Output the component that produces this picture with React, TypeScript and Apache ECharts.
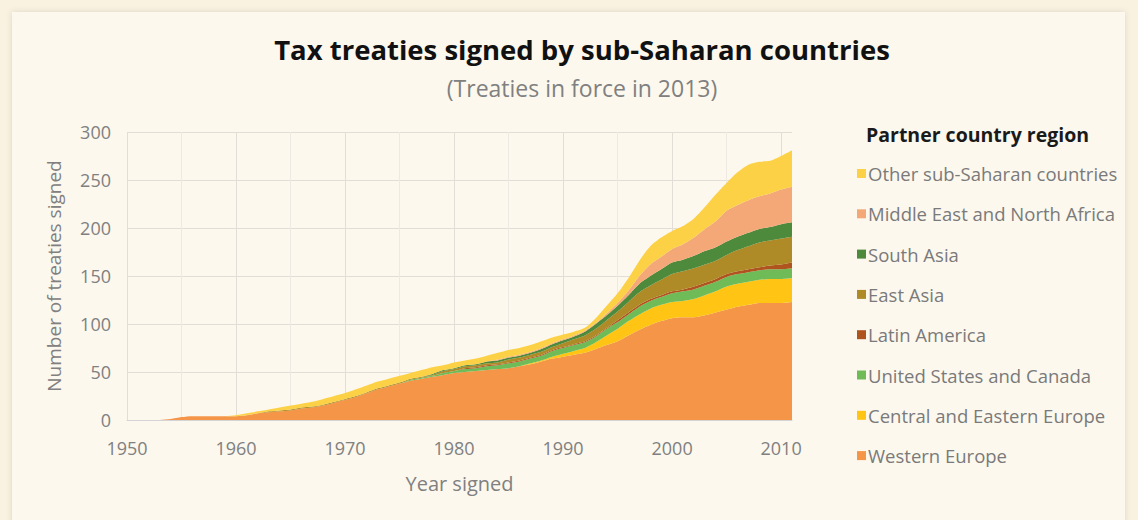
import React, { useEffect, useRef } from "react";
import * as echarts from "echarts";

const years: string[] = [];
for (let y = 1950; y <= 2011; y++) years.push(String(y));

// Values per year 1950..2011
const westernEurope = [
  0, 0, 0, 0, 1, 3, 4, 4, 4, 4,
  4, 5, 7, 8, 9, 10, 12, 13, 15, 18,
  21, 24, 28, 32, 35, 38, 41, 43, 45, 47,
  49, 50, 51, 52, 53, 54, 56, 58, 61, 64,
  66, 68, 70, 74, 78, 82, 88, 94, 99, 103,
  106, 107, 107, 109, 112, 115, 118, 120, 122, 122,
  122, 123,
];
const centralEasternEurope = [
  0, 0, 0, 0, 0, 0, 0, 0, 0, 0,
  0, 0, 0, 0, 0, 0, 0, 0, 0, 0,
  0, 0, 0, 0, 0, 0, 0, 0, 0, 0,
  0, 0, 0, 0, 0, 0, 0, 1, 1, 2,
  3, 4, 5, 7, 10, 13, 15, 16, 17, 17,
  17, 17, 19, 21, 22, 24, 24, 24, 24, 25,
  25, 25,
];
const usCanada = [
  0, 0, 0, 0, 0, 0, 0, 0, 0, 0,
  0, 0, 0, 0, 0, 0, 0, 0, 0, 0,
  0, 0, 0, 0, 0, 0, 1, 1, 1, 2,
  2, 3, 3, 4, 4, 5, 5, 5, 5, 6,
  6, 6, 6, 6, 7, 7, 7, 8, 8, 8,
  9, 10, 10, 10, 10, 10, 10, 10, 10, 10,
  10, 10,
];
const latinAmerica = [
  0, 0, 0, 0, 0, 0, 0, 0, 0, 0,
  0, 0, 0, 0, 0, 0, 0, 0, 0, 0,
  0, 0, 0, 0, 0, 0, 0, 0, 0, 0,
  0, 1, 1, 1, 1, 1, 1, 1, 1, 1,
  1, 1, 1, 1, 1, 2, 2, 2, 2, 2,
  2, 2, 3, 3, 3, 3, 3, 3, 3, 4,
  5, 6,
];
const eastAsia = [
  0, 0, 0, 0, 0, 0, 0, 0, 0, 0,
  0, 0, 0, 1, 1, 1, 1, 1, 1, 1,
  1, 1, 1, 1, 1, 1, 1, 1, 1, 2,
  2, 2, 2, 2, 2, 3, 3, 3, 3, 3,
  4, 5, 6, 7, 8, 9, 11, 13, 14, 16,
  18, 19, 19, 19, 19, 20, 22, 24, 26, 26,
  27, 27,
];
const southAsia = [
  0, 0, 0, 0, 0, 0, 0, 0, 0, 0,
  0, 0, 0, 0, 0, 0, 0, 0, 0, 0,
  0, 0, 0, 0, 0, 0, 0, 0, 1, 1,
  1, 1, 1, 2, 2, 2, 2, 2, 3, 3,
  3, 3, 4, 5, 5, 6, 7, 9, 10, 11,
  12, 12, 13, 14, 14, 14, 14, 14, 14, 14,
  15, 15,
];
const middleEastNorthAfrica = [
  0, 0, 0, 0, 0, 0, 0, 0, 0, 0,
  0, 0, 0, 0, 0, 0, 0, 0, 0, 0,
  0, 0, 0, 0, 0, 0, 0, 0, 0, 0,
  0, 0, 0, 0, 1, 1, 1, 1, 1, 1,
  1, 1, 1, 1, 2, 3, 5, 8, 12, 13,
  14, 16, 19, 23, 27, 32, 33, 34, 34, 35,
  36, 37,
];
const otherSubSaharan = [
  0, 0, 0, 0, 0, 0, 0, 0, 0, 0,
  1, 2, 2, 2, 3, 4, 4, 5, 6, 6,
  6, 7, 7, 7, 7, 7, 6, 7, 7, 5,
  6, 5, 6, 6, 7, 7, 7, 7, 7, 6,
  5, 4, 3, 5, 8, 10, 13, 16, 19, 20,
  19, 19, 20, 23, 28, 29, 34, 37, 36, 34,
  35, 38,
];

const seriesNames = [
  "Western Europe",
  "Central and Eastern Europe",
  "United States and Canada",
  "Latin America",
  "East Asia",
  "South Asia",
  "Middle East and North Africa",
  "Other sub-Saharan countries",
];
const seriesValues = [
  westernEurope,
  centralEasternEurope,
  usCanada,
  latinAmerica,
  eastAsia,
  southAsia,
  middleEastNorthAfrica,
  otherSubSaharan,
];
const seriesColors = [
  "#F59548",
  "#FFC414",
  "#6EBB58",
  "#B0541F",
  "#AE8B26",
  "#4D8A3B",
  "#F4A878",
  "#FCD146",
];

const yTicks = [0, 50, 100, 150, 200, 250, 300];

const FONT = "'Open Sans', 'Noto Sans', sans-serif";

export default function App() {
  const ref = useRef<HTMLDivElement>(null);
  useEffect(() => {
    document.body.style.margin = "0";
    if (!ref.current) return;
    const chart = echarts.init(ref.current, null, { renderer: "svg" });
    const series = seriesNames.map((name, i) => ({
      name,
      type: "line",
      stack: "total",
      symbol: "none",
      smooth: 0.25,
      xAxisIndex: 0,
      lineStyle: { width: 0 },
      areaStyle: { color: seriesColors[i], opacity: 1 },
      itemStyle: { color: seriesColors[i] },
      data: seriesValues[i],
      z: 3,
    }));
    chart.setOption({
      animation: false,
      backgroundColor: "#FAF2E1",
      graphic: [
        {
          type: "rect",
          shape: { x: 12, y: 12, width: 1113, height: 520 },
          style: {
            fill: "#FCF8EE",
            shadowBlur: 6,
            shadowColor: "rgba(0,0,0,0.12)",
          },
          z: -10,
          silent: true,
        },
        {
          type: "text",
          left: 866,
          top: 124,
          style: {
            text: "Partner country region",
            font: `bold 19.5px ${FONT}`,
            fill: "#1a1a1a",
          },
        },
      ],
      title: {
        text: "Tax treaties signed by sub-Saharan countries",
        subtext: "(Treaties in force in 2013)",
        left: 577,
        textAlign: "center",
        top: 30,
        itemGap: 13,
        textStyle: {
          fontFamily: FONT,
          fontWeight: "bold",
          fontSize: 27.5,
          color: "#111111",
        },
        subtextStyle: {
          fontFamily: FONT,
          fontSize: 23,
          color: "#808080",
        },
      },
      legend: {
        orient: "vertical",
        left: 852,
        top: 159,
        itemWidth: 9,
        itemHeight: 9,
        itemGap: 21.3,
        icon: "rect",
        data: seriesNames.slice().reverse(),
        textStyle: {
          fontFamily: FONT,
          fontSize: 18.5,
          color: "#7a7a7a",
          padding: [0, 0, 0, -3],
        },
      },
      grid: { left: 127, right: 346, top: 132, bottom: 100 },
      xAxis: [
        {
          type: "category",
          data: years,
          boundaryGap: false,
          name: "Year signed",
          nameLocation: "middle",
          nameGap: 53,
          nameTextStyle: { fontFamily: FONT, fontSize: 20, color: "#808080" },
          axisLine: { show: true, lineStyle: { color: "#d4d4d4", width: 1 } },
          axisTick: { show: false },
          axisLabel: {
            fontFamily: FONT,
            fontSize: 18,
            color: "#808080",
            margin: 19,
            interval: (idx: number, val: string) => Number(val) % 10 === 0,
          },
          splitLine: {
            show: true,
            interval: (idx: number, val: string) => Number(val) % 10 === 0,
            lineStyle: { color: "#e2ddd6", width: 1 },
          },
          z: 2,
        },
        {
          type: "category",
          data: years,
          boundaryGap: false,
          position: "bottom",
          axisLine: { show: false },
          axisTick: { show: false },
          axisLabel: { show: false },
          splitLine: {
            show: true,
            interval: (idx: number, val: string) => Number(val) % 5 === 0 && Number(val) % 10 !== 0,
            lineStyle: { color: "#eeeae3", width: 1 },
          },
          z: 1,
        },
      ],
      yAxis: {
        type: "value",
        min: 0,
        max: 300,
        interval: 50,
        name: "Number of treaties signed",
        nameLocation: "middle",
        nameGap: 64,
        nameTextStyle: { fontFamily: FONT, fontSize: 19, color: "#808080" },
        axisLine: { show: false },
        axisTick: { show: false },
        axisLabel: {
          fontFamily: FONT,
          fontSize: 18,
          color: "#808080",
          margin: 16,
          formatter: (v: number) => (yTicks.includes(v) ? String(v) : ""),
        },
        splitLine: { show: true, lineStyle: { color: "#e2ddd6", width: 1 } },
      },
      series,
    });
    return () => chart.dispose();
  }, []);
  return (
    <div
      ref={ref}
      style={{ width: 1138, height: 520, position: "absolute", left: 0, top: 0 }}
    />
  );
}
